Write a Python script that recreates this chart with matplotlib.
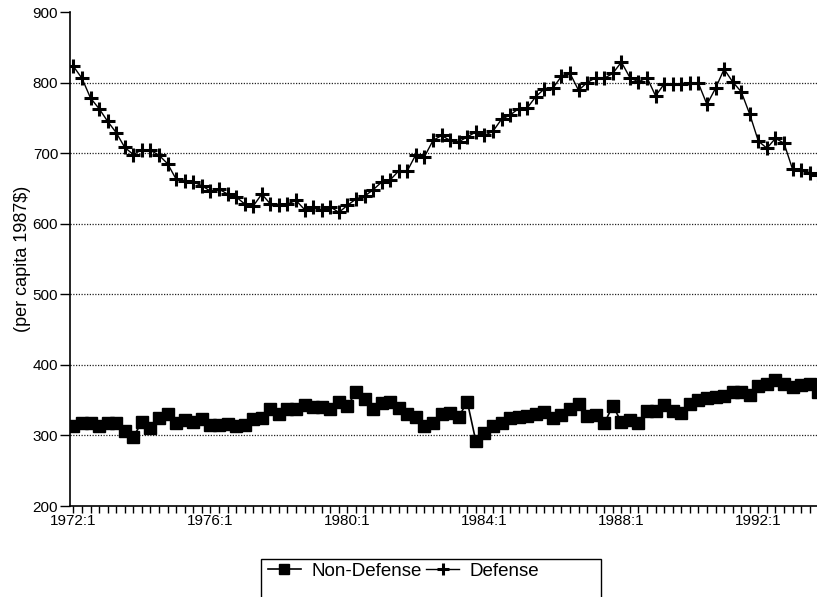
import matplotlib
matplotlib.use("Agg")
import matplotlib.pyplot as plt
from matplotlib.patches import Rectangle

plt.rcParams['font.family'] = ['Liberation Sans', 'DejaVu Sans']

start_year = 1972
n_quarters = 88
tick_years = [1972, 1976, 1980, 1984, 1988, 1992]
tick_labels = [f"{y}:1" for y in tick_years]
y_ticks = [200, 300, 400, 500, 600, 700, 800, 900]

defense = [823, 806, 778, 763, 745, 729, 708, 698, 705, 704,
           697, 685, 663, 661, 659, 654, 646, 649, 642, 638,
           628, 625, 642, 628, 627, 628, 633, 620, 624, 619,
           624, 616, 626, 635, 639, 648, 659, 662, 675, 675,
           698, 695, 718, 725, 718, 716, 723, 730, 725, 731,
           748, 754, 763, 764, 780, 791, 792, 809, 813, 789,
           800, 807, 806, 813, 829, 807, 801, 807, 781, 798,
           798, 798, 800, 799, 769, 792, 819, 801, 787, 755,
           717, 707, 721, 714, 677, 676, 672, 669]

non_defense = [313, 318, 318, 314, 317, 317, 306, 298, 319, 311,
               324, 330, 318, 322, 319, 323, 315, 315, 316, 314,
               315, 323, 325, 337, 330, 338, 338, 343, 340, 340,
               338, 347, 341, 362, 352, 338, 346, 348, 339, 331,
               326, 314, 317, 330, 332, 326, 348, 292, 304, 314,
               317, 325, 326, 327, 331, 333, 325, 329, 337, 345,
               328, 329, 317, 342, 319, 322, 317, 335, 335, 343,
               335, 332, 345, 350, 353, 354, 356, 362, 362, 357,
               370, 373, 379, 373, 369, 371, 373, 362]

x = list(range(n_quarters))
tick_pos = [(y - start_year) * 4 for y in tick_years]

W, H = 817, 597
fig = plt.figure(figsize=(W / 100, H / 100), dpi=100)
ax = fig.add_axes([70 / W, (H - 506) / H, (W - 70) / W, (506 - 12) / H])

ax.plot(x, non_defense, color='black', lw=1.2, marker='s', markersize=8.2,
        markerfacecolor='black', markeredgecolor='black', label='Non-Defense')
ax.plot(x, defense, color='black', lw=1.0, marker='+', markersize=10,
        markeredgewidth=2.2, label='Defense')

ax.set_xlim(-0.4, 86.85)
ax.set_ylim(200, 900)
ax.set_yticks(y_ticks)
ax.set_yticklabels([str(v) for v in y_ticks], fontsize=11)
ax.set_xticks(tick_pos)
ax.set_xticklabels(tick_labels, fontsize=11)
ax.set_xticks(list(range(0, 87)), minor=True)
ax.tick_params(axis='x', which='both', direction='out', length=5, width=1, pad=1)
ax.tick_params(axis='y', direction='out', length=7, width=1, pad=1.5)

for v in y_ticks[1:-1]:
    ax.axhline(v, color='#222222', lw=0.9, linestyle=(0, (1, 1.2)), zorder=0)

for side in ['top', 'right']:
    ax.spines[side].set_visible(False)
ax.spines['left'].set_linewidth(1.2)
ax.spines['bottom'].set_linewidth(1.2)

ax.set_ylabel('(per capita 1987$)', fontsize=13)
ax.yaxis.set_label_coords(-(70 - 31) / (W - 70), 0.5)

# legend frame that runs past the bottom edge
fig.patches.append(Rectangle((261 / W, -0.05), (601 - 261) / W, 0.05 + (H - 559) / H,
                             transform=fig.transFigure, fill=False,
                             edgecolor='black', lw=1.0))
handles, labels = ax.get_legend_handles_labels()
fig.legend(handles, labels, loc='center left', bbox_to_anchor=(268 / W, (H - 571) / H),
           ncol=2, frameon=False, fontsize=13.5, handlelength=1.75,
           handletextpad=0.55, columnspacing=0.25, borderpad=0, borderaxespad=0,
           markerscale=0.85)

fig.savefig('out.png', dpi=100)
